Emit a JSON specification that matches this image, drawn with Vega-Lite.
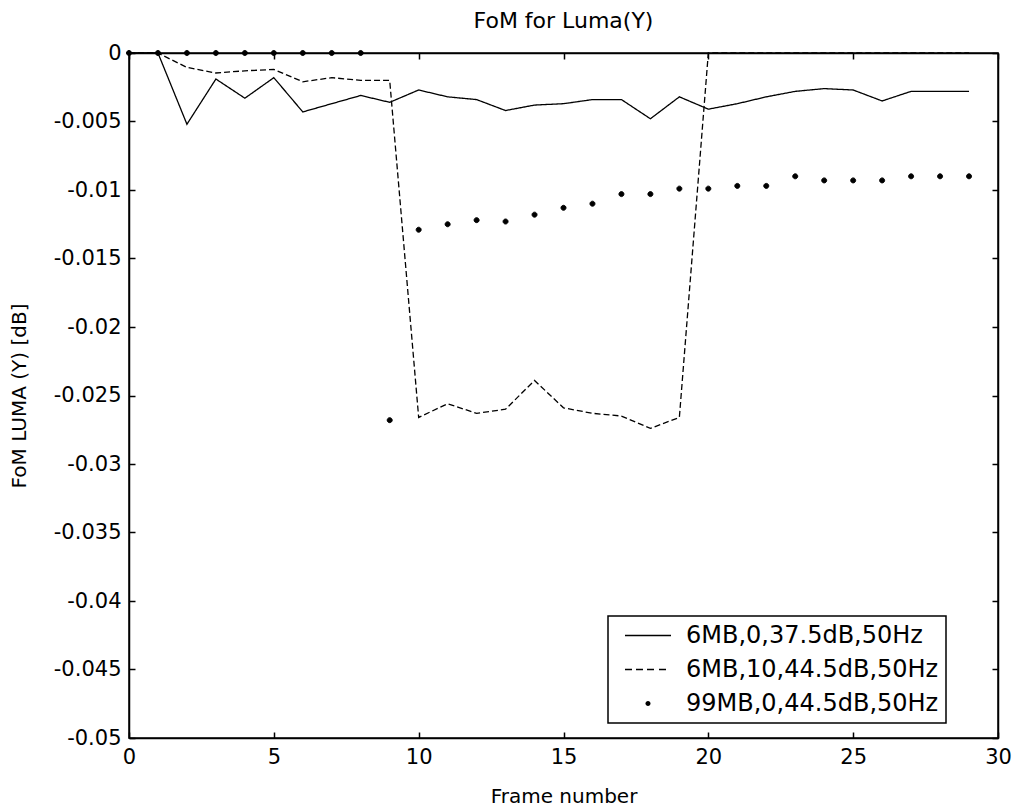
{
  "$schema": "https://vega.github.io/schema/vega-lite/v6.json",
  "width": 869,
  "height": 685,
  "autosize": {"type": "none"},
  "padding": {"left": 129, "top": 53, "right": 16, "bottom": 73},
  "background": "white",
  "title": {"text": "FoM for Luma(Y)", "fontSize": 22, "font": "DejaVu Sans", "fontWeight": "normal", "color": "black", "offset": 9},
  "config": {
    "view": {"stroke": "black", "strokeWidth": 1.5},
    "axis": {
      "grid": false, "domainColor": "black", "tickColor": "black", "labelColor": "black", "titleColor": "black",
      "labelFont": "DejaVu Sans", "titleFont": "DejaVu Sans", "labelFontSize": 21, "titleFontSize": 20,
      "titleFontWeight": "normal", "tickSize": -6, "tickWidth": 1.5, "domainWidth": 1.5, "labelPadding": 14,
      "labelFlush": false, "labelOverlap": false
    },
    "legend": {
      "orient": "none", "legendX": 479, "legendY": 563,
      "strokeColor": "black", "strokeWidth": 1.5, "fillColor": "white", "padding": 7.5,
      "symbolSize": 324, "symbolStrokeWidth": 1, "symbolFillColor": "black", "symbolStrokeColor": "black",
      "symbolOffset": 20.5, "labelFont": "DejaVu Sans", "labelFontSize": 24, "labelColor": "black",
      "labelOffset": 26, "rowPadding": 10, "labelLimit": 400
    }
  },
  "data": {"values": [
    {"frame": 0, "fom": 0, "s": "6MB,0,37.5dB,50Hz"},
    {"frame": 1, "fom": 0, "s": "6MB,0,37.5dB,50Hz"},
    {"frame": 2, "fom": -0.0052, "s": "6MB,0,37.5dB,50Hz"},
    {"frame": 3, "fom": -0.0019, "s": "6MB,0,37.5dB,50Hz"},
    {"frame": 4, "fom": -0.0033, "s": "6MB,0,37.5dB,50Hz"},
    {"frame": 5, "fom": -0.0018, "s": "6MB,0,37.5dB,50Hz"},
    {"frame": 6, "fom": -0.0043, "s": "6MB,0,37.5dB,50Hz"},
    {"frame": 7, "fom": -0.0037, "s": "6MB,0,37.5dB,50Hz"},
    {"frame": 8, "fom": -0.0031, "s": "6MB,0,37.5dB,50Hz"},
    {"frame": 9, "fom": -0.0036, "s": "6MB,0,37.5dB,50Hz"},
    {"frame": 10, "fom": -0.0027, "s": "6MB,0,37.5dB,50Hz"},
    {"frame": 11, "fom": -0.0032, "s": "6MB,0,37.5dB,50Hz"},
    {"frame": 12, "fom": -0.0034, "s": "6MB,0,37.5dB,50Hz"},
    {"frame": 13, "fom": -0.0042, "s": "6MB,0,37.5dB,50Hz"},
    {"frame": 14, "fom": -0.0038, "s": "6MB,0,37.5dB,50Hz"},
    {"frame": 15, "fom": -0.0037, "s": "6MB,0,37.5dB,50Hz"},
    {"frame": 16, "fom": -0.0034, "s": "6MB,0,37.5dB,50Hz"},
    {"frame": 17, "fom": -0.0034, "s": "6MB,0,37.5dB,50Hz"},
    {"frame": 18, "fom": -0.0048, "s": "6MB,0,37.5dB,50Hz"},
    {"frame": 19, "fom": -0.0032, "s": "6MB,0,37.5dB,50Hz"},
    {"frame": 20, "fom": -0.0041, "s": "6MB,0,37.5dB,50Hz"},
    {"frame": 21, "fom": -0.0037, "s": "6MB,0,37.5dB,50Hz"},
    {"frame": 22, "fom": -0.0032, "s": "6MB,0,37.5dB,50Hz"},
    {"frame": 23, "fom": -0.0028, "s": "6MB,0,37.5dB,50Hz"},
    {"frame": 24, "fom": -0.0026, "s": "6MB,0,37.5dB,50Hz"},
    {"frame": 25, "fom": -0.0027, "s": "6MB,0,37.5dB,50Hz"},
    {"frame": 26, "fom": -0.0035, "s": "6MB,0,37.5dB,50Hz"},
    {"frame": 27, "fom": -0.0028, "s": "6MB,0,37.5dB,50Hz"},
    {"frame": 28, "fom": -0.0028, "s": "6MB,0,37.5dB,50Hz"},
    {"frame": 29, "fom": -0.0028, "s": "6MB,0,37.5dB,50Hz"},
    {"frame": 0, "fom": 0, "s": "6MB,10,44.5dB,50Hz"},
    {"frame": 1, "fom": 0, "s": "6MB,10,44.5dB,50Hz"},
    {"frame": 2, "fom": -0.00105, "s": "6MB,10,44.5dB,50Hz"},
    {"frame": 3, "fom": -0.00146, "s": "6MB,10,44.5dB,50Hz"},
    {"frame": 4, "fom": -0.0013, "s": "6MB,10,44.5dB,50Hz"},
    {"frame": 5, "fom": -0.0012, "s": "6MB,10,44.5dB,50Hz"},
    {"frame": 6, "fom": -0.0021, "s": "6MB,10,44.5dB,50Hz"},
    {"frame": 7, "fom": -0.0018, "s": "6MB,10,44.5dB,50Hz"},
    {"frame": 8, "fom": -0.002, "s": "6MB,10,44.5dB,50Hz"},
    {"frame": 9, "fom": -0.002, "s": "6MB,10,44.5dB,50Hz"},
    {"frame": 10, "fom": -0.0266, "s": "6MB,10,44.5dB,50Hz"},
    {"frame": 11, "fom": -0.0256, "s": "6MB,10,44.5dB,50Hz"},
    {"frame": 12, "fom": -0.0263, "s": "6MB,10,44.5dB,50Hz"},
    {"frame": 13, "fom": -0.026, "s": "6MB,10,44.5dB,50Hz"},
    {"frame": 14, "fom": -0.0239, "s": "6MB,10,44.5dB,50Hz"},
    {"frame": 15, "fom": -0.0259, "s": "6MB,10,44.5dB,50Hz"},
    {"frame": 16, "fom": -0.0263, "s": "6MB,10,44.5dB,50Hz"},
    {"frame": 17, "fom": -0.0265, "s": "6MB,10,44.5dB,50Hz"},
    {"frame": 18, "fom": -0.0274, "s": "6MB,10,44.5dB,50Hz"},
    {"frame": 19, "fom": -0.0266, "s": "6MB,10,44.5dB,50Hz"},
    {"frame": 20, "fom": 0, "s": "6MB,10,44.5dB,50Hz"},
    {"frame": 21, "fom": 0, "s": "6MB,10,44.5dB,50Hz"},
    {"frame": 22, "fom": 0, "s": "6MB,10,44.5dB,50Hz"},
    {"frame": 23, "fom": 0, "s": "6MB,10,44.5dB,50Hz"},
    {"frame": 24, "fom": 0, "s": "6MB,10,44.5dB,50Hz"},
    {"frame": 25, "fom": 0, "s": "6MB,10,44.5dB,50Hz"},
    {"frame": 26, "fom": 0, "s": "6MB,10,44.5dB,50Hz"},
    {"frame": 27, "fom": 0, "s": "6MB,10,44.5dB,50Hz"},
    {"frame": 28, "fom": 0, "s": "6MB,10,44.5dB,50Hz"},
    {"frame": 29, "fom": 0, "s": "6MB,10,44.5dB,50Hz"},
    {"frame": 0, "fom": 0, "s": "99MB,0,44.5dB,50Hz"},
    {"frame": 1, "fom": 0, "s": "99MB,0,44.5dB,50Hz"},
    {"frame": 2, "fom": 0, "s": "99MB,0,44.5dB,50Hz"},
    {"frame": 3, "fom": 0, "s": "99MB,0,44.5dB,50Hz"},
    {"frame": 4, "fom": 0, "s": "99MB,0,44.5dB,50Hz"},
    {"frame": 5, "fom": 0, "s": "99MB,0,44.5dB,50Hz"},
    {"frame": 6, "fom": 0, "s": "99MB,0,44.5dB,50Hz"},
    {"frame": 7, "fom": 0, "s": "99MB,0,44.5dB,50Hz"},
    {"frame": 8, "fom": 0, "s": "99MB,0,44.5dB,50Hz"},
    {"frame": 9, "fom": -0.0268, "s": "99MB,0,44.5dB,50Hz"},
    {"frame": 10, "fom": -0.0129, "s": "99MB,0,44.5dB,50Hz"},
    {"frame": 11, "fom": -0.0125, "s": "99MB,0,44.5dB,50Hz"},
    {"frame": 12, "fom": -0.0122, "s": "99MB,0,44.5dB,50Hz"},
    {"frame": 13, "fom": -0.0123, "s": "99MB,0,44.5dB,50Hz"},
    {"frame": 14, "fom": -0.0118, "s": "99MB,0,44.5dB,50Hz"},
    {"frame": 15, "fom": -0.0113, "s": "99MB,0,44.5dB,50Hz"},
    {"frame": 16, "fom": -0.011, "s": "99MB,0,44.5dB,50Hz"},
    {"frame": 17, "fom": -0.0103, "s": "99MB,0,44.5dB,50Hz"},
    {"frame": 18, "fom": -0.0103, "s": "99MB,0,44.5dB,50Hz"},
    {"frame": 19, "fom": -0.0099, "s": "99MB,0,44.5dB,50Hz"},
    {"frame": 20, "fom": -0.0099, "s": "99MB,0,44.5dB,50Hz"},
    {"frame": 21, "fom": -0.0097, "s": "99MB,0,44.5dB,50Hz"},
    {"frame": 22, "fom": -0.0097, "s": "99MB,0,44.5dB,50Hz"},
    {"frame": 23, "fom": -0.009, "s": "99MB,0,44.5dB,50Hz"},
    {"frame": 24, "fom": -0.0093, "s": "99MB,0,44.5dB,50Hz"},
    {"frame": 25, "fom": -0.0093, "s": "99MB,0,44.5dB,50Hz"},
    {"frame": 26, "fom": -0.0093, "s": "99MB,0,44.5dB,50Hz"},
    {"frame": 27, "fom": -0.009, "s": "99MB,0,44.5dB,50Hz"},
    {"frame": 28, "fom": -0.009, "s": "99MB,0,44.5dB,50Hz"},
    {"frame": 29, "fom": -0.009, "s": "99MB,0,44.5dB,50Hz"}
  ]},
  "layer": [
    {
      "transform": [{"filter": "datum.s !== '99MB,0,44.5dB,50Hz'"}],
      "mark": {"type": "line", "color": "black", "strokeWidth": 1.3},
      "encoding": {
        "x": {"field": "frame", "type": "quantitative", "scale": {"domain": [0, 30], "nice": false, "zero": false},
              "axis": {"orient": "bottom", "values": [0, 5, 10, 15, 20, 25, 30], "format": "d", "title": "Frame number", "titlePadding": 19}},
        "y": {"field": "fom", "type": "quantitative", "scale": {"domain": [-0.05, 0], "nice": false, "zero": false},
              "axis": {"orient": "left", "values": [0, -0.005, -0.01, -0.015, -0.02, -0.025, -0.03, -0.035, -0.04, -0.045, -0.05],
                       "format": "~g", "labelExpr": "replace(datum.label, '\u2212', '-')", "title": "FoM LUMA (Y) [dB]", "titlePadding": 24}},
        "strokeDash": {"field": "s", "type": "nominal",
                       "scale": {"domain": ["6MB,0,37.5dB,50Hz", "6MB,10,44.5dB,50Hz"], "range": [[1, 0], [6, 3]]},
                       "legend": null}
      }
    },
    {
      "transform": [{"filter": "datum.s === '99MB,0,44.5dB,50Hz'"}],
      "mark": {"type": "point", "filled": true, "color": "black", "stroke": "black", "strokeWidth": 1, "size": 324, "opacity": 1},
      "encoding": {
        "x": {"field": "frame", "type": "quantitative",
              "axis": {"orient": "top", "values": [0, 5, 10, 15, 20, 25, 30], "labels": false, "title": null}},
        "y": {"field": "fom", "type": "quantitative",
              "axis": {"orient": "right", "values": [0, -0.005, -0.01, -0.015, -0.02, -0.025, -0.03, -0.035, -0.04, -0.045, -0.05], "labels": false, "title": null}},
        "shape": {"field": "s", "type": "nominal",
                  "scale": {"domain": ["6MB,0,37.5dB,50Hz", "6MB,10,44.5dB,50Hz", "99MB,0,44.5dB,50Hz"],
                            "range": ["M-2.556,-0.07H2.556V0.07H-2.556Z",
                                      "M-2.556,-0.07H-1.778V0.07H-2.556ZM-1.333,-0.07H-0.556V0.07H-1.333ZM-0.111,-0.07H0.667V0.07H-0.111ZM1.222,-0.07H2V0.07H1.222Z",
                                      "M-0.278,0A0.278,0.278 0 1,0 0.278,0A0.278,0.278 0 1,0 -0.278,0Z"]},
                  "legend": {"title": null,
                             "encode": {"symbols": {"update": {"fill": {"value": "black"}, "opacity": {"value": 1}}}}}}
      }
    }
  ],
  "resolve": {"axis": {"x": "independent", "y": "independent"}}
}
